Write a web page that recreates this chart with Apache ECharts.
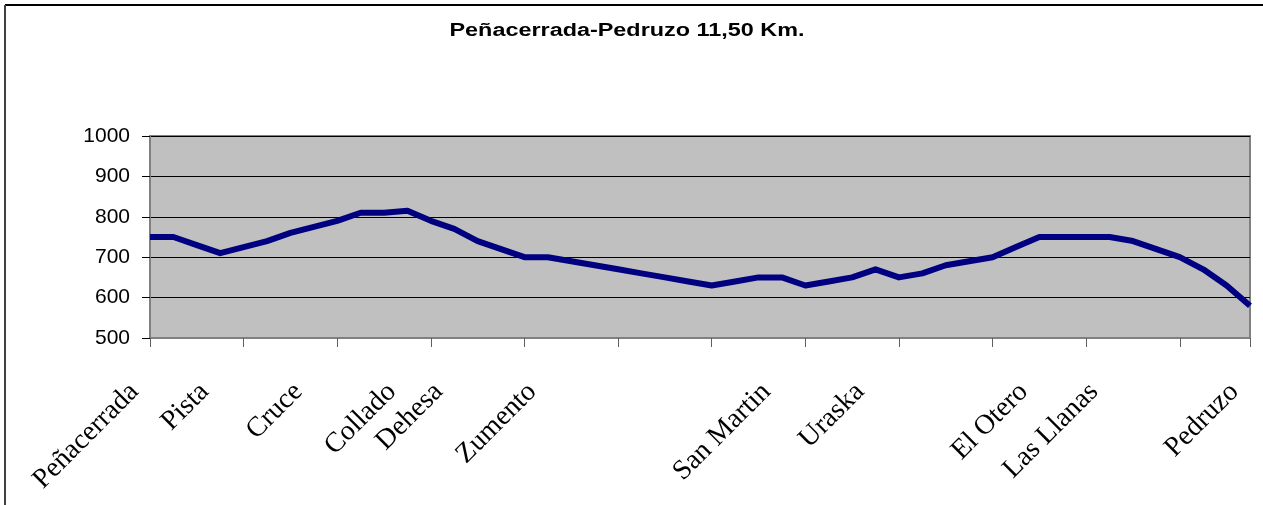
<!DOCTYPE html>
<html>

<head>
    <meta charset="utf-8">
    <style>
        html,
        body {
            margin: 0;
            padding: 0;
            background-color: #fff;
        }

        #main {
            width: 1263px;
            height: 505px;
        }
    </style>
    <script src="https://cdn.jsdelivr.net/npm/echarts@6/dist/echarts.min.js"></script>
</head>

<body>
    <div id="main"></div>
    <script type="text/javascript">
        // points along the route, named ones get a label
        var categories = [
            'Peñacerrada', '', '', 'Pista', '', '', '', 'Cruce', '', '', '', 'Collado',
            '', 'Dehesa', '', '', '', 'Zumento', '', '', '', '', '', '',
            '', '', '', 'San Martin', '', '', '', 'Uraska', '', '', '', '',
            '', '', 'El Otero', '', '', 'Las Llanas', '', '', '', '', '', 'Pedruzo'
        ];

        // altitude (m)
        var altitude = [
            750, 750, 730, 710, 725, 740, 760, 775, 790, 810, 810, 815,
            790, 770, 740, 720, 700, 700, 690, 680, 670, 660, 650, 640,
            630, 640, 650, 650, 630, 640, 650, 670, 650, 660, 680, 690,
            700, 725, 750, 750, 750, 750, 740, 720, 700, 670, 630, 580
        ];

        var yMin = 500;
        var yMax = 1000;
        var yStep = 100;

        var titleText = 'Peñacerrada-Pedruzo 11,50 Km.';

        var myChart = echarts.init(document.getElementById('main'));

        var option = {
            animation: false,
            backgroundColor: '#fff',
            graphic: [
                {
                    type: 'line',
                    shape: { x1: 5, y1: 5, x2: 1263, y2: 5 },
                    style: { stroke: '#000', lineWidth: 2 }
                },
                {
                    type: 'line',
                    shape: { x1: 5, y1: 5, x2: 5, y2: 505 },
                    style: { stroke: '#404040', lineWidth: 2 }
                },
                {
                    // the original picture is stretched sideways, so is its title
                    type: 'text',
                    x: 627,
                    y: 31,
                    scaleX: 1.3,
                    style: {
                        text: titleText,
                        textAlign: 'center',
                        textVerticalAlign: 'middle',
                        fontFamily: 'Liberation Sans, Arial, sans-serif',
                        fontSize: 18,
                        fontWeight: 'bold',
                        fill: '#000'
                    }
                }
            ],
            grid: {
                left: 150,
                right: 13,
                top: 136,
                bottom: 167,
                containLabel: false,
                show: true,
                backgroundColor: '#c0c0c0',
                borderColor: '#808080',
                borderWidth: 2
            },
            xAxis: {
                type: 'category',
                boundaryGap: false,
                data: categories,
                axisLine: {
                    lineStyle: { color: '#808080', width: 2 }
                },
                axisTick: {
                    interval: 3,
                    length: 9,
                    lineStyle: { color: '#606060', width: 1 }
                },
                axisLabel: {
                    interval: 0,
                    rotate: 45,
                    margin: 34,
                    padding: [0, 22, 0, 0],
                    fontFamily: 'Liberation Serif, Times New Roman, serif',
                    fontSize: 28,
                    color: '#000'
                },
                splitLine: { show: false }
            },
            yAxis: {
                type: 'value',
                min: yMin,
                max: yMax,
                interval: yStep,
                axisLine: {
                    show: true,
                    lineStyle: { color: '#808080', width: 2 }
                },
                axisTick: {
                    show: true,
                    length: 8,
                    lineStyle: { color: '#000', width: 1 }
                },
                axisLabel: {
                    margin: 20,
                    fontFamily: 'Liberation Sans, Arial, sans-serif',
                    fontSize: 21,
                    color: '#000',
                    formatter: function (v) {
                        return String(v);
                    }
                },
                splitLine: {
                    lineStyle: { color: '#000', width: 1 }
                }
            },
            series: [
                {
                    type: 'line',
                    data: altitude,
                    symbol: 'none',
                    lineStyle: { color: '#000080', width: 6, join: 'round' }
                }
            ]
        };

        myChart.setOption(option);
    </script>
</body>

</html>
